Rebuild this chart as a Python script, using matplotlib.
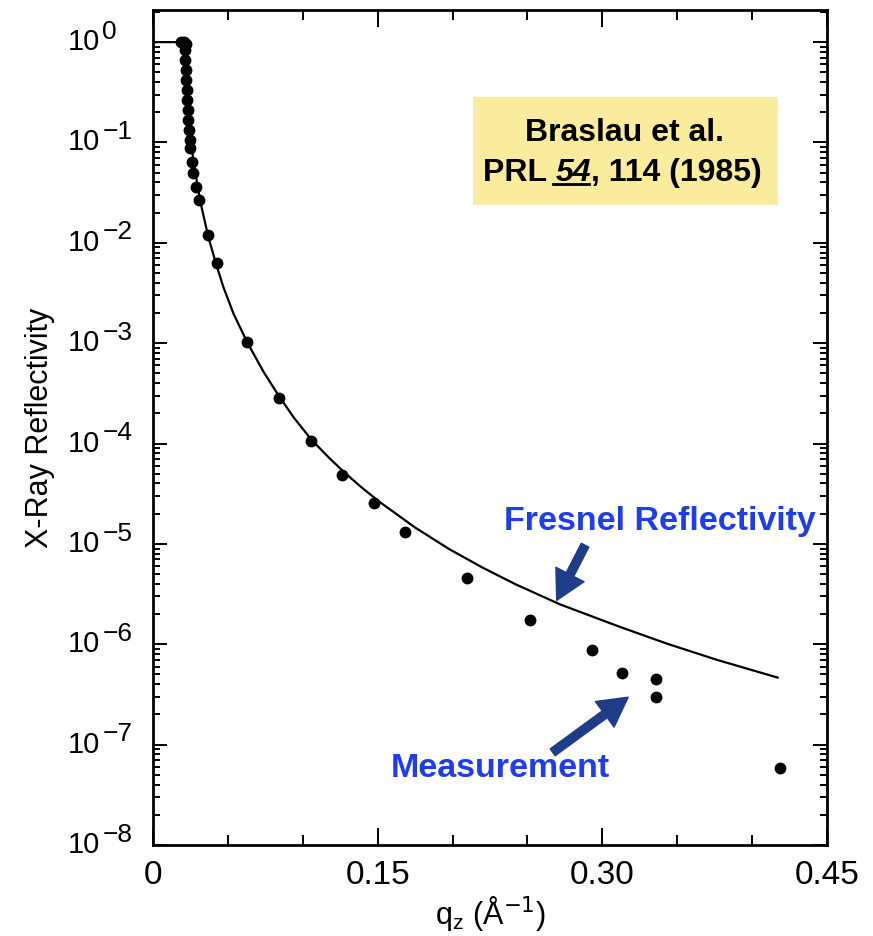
import matplotlib
matplotlib.use("Agg")
import matplotlib.pyplot as plt
from matplotlib.patches import Rectangle
from matplotlib.lines import Line2D
from matplotlib.ticker import FixedLocator, LogLocator, NullFormatter

plt.rcParams['font.family'] = ['Liberation Sans', 'DejaVu Sans']

meas_q = [0.0188, 0.0209, 0.0222, 0.0215, 0.0215, 0.0222, 0.0222, 0.0229, 0.0229,
          0.0235, 0.0235, 0.0242, 0.0249, 0.0249, 0.0262, 0.0269, 0.0289,
          0.0309, 0.0370, 0.0424, 0.0626, 0.0841, 0.1056, 0.1265, 0.1473,
          0.1682, 0.2098, 0.2515, 0.2932, 0.3134, 0.3356, 0.3356, 0.4184]
meas_R = [1.0, 1.0, 0.95, 0.83, 0.66, 0.53, 0.42, 0.33, 0.265,
          0.21, 0.167, 0.133, 0.106, 0.088, 0.064, 0.050, 0.036,
          0.0267, 0.0120, 0.0063, 1.03e-3, 2.85e-4, 1.06e-4, 4.87e-5, 2.56e-5,
          1.32e-5, 4.59e-6, 1.75e-6, 8.8e-7, 5.2e-7, 4.5e-7, 3.0e-7, 5.9e-8]

# Fresnel reflectivity curve
fres_q = [0.0, 0.0188, 0.0212, 0.0217, 0.0222, 0.0235, 0.0249, 0.0269, 0.0316,
          0.0370, 0.0424, 0.0471, 0.0538, 0.0632, 0.0740, 0.0841, 0.0942,
          0.1056, 0.1170, 0.1271, 0.1392, 0.1513, 0.1749, 0.1978, 0.2200,
          0.2421, 0.2717, 0.3094, 0.3430, 0.3767, 0.4170]
fres_R = [1.0, 1.0, 1.0, 0.85, 0.48, 0.23, 0.125, 0.0665, 0.0257,
          0.01135, 5.96e-3, 3.59e-3, 1.96e-3, 1.0e-3, 5.13e-4, 2.965e-4, 1.80e-4,
          1.10e-4, 7.35e-5, 5.27e-5, 3.66e-5, 2.62e-5, 1.46e-5, 8.87e-6, 5.81e-6,
          3.96e-6, 2.50e-6, 1.535e-6, 1.016e-6, 6.98e-7, 4.66e-7]

x_ticks = [0, 0.15, 0.30, 0.45]
x_ticklabels = ["0", "0.15", "0.30", "0.45"]
x_minor = [0.05, 0.10, 0.20, 0.25, 0.35, 0.40]
y_ticks = [1e0, 1e-1, 1e-2, 1e-3, 1e-4, 1e-5, 1e-6, 1e-7, 1e-8]
y_exponents = ["0", "−1", "−2", "−3", "−4", "−5", "−6", "−7", "−8"]

fig = plt.figure(figsize=(8.73, 9.36), dpi=100)
ax = fig.add_axes([153/873, 1-845/936, (827-153)/873, (845-10)/936])

ax.plot(fres_q, fres_R, color='black', lw=1.6, zorder=2)
ax.plot(meas_q, meas_R, 'o', color='black', ms=7.5, zorder=3)

ax.set_yscale('log')
ax.set_xlim(0, 0.45)
ax.set_ylim(1e-8, 10**0.32)

ax.xaxis.set_major_locator(FixedLocator(x_ticks))
ax.set_xticklabels(x_ticklabels)
ax.xaxis.set_minor_locator(FixedLocator(x_minor))
ax.yaxis.set_major_locator(FixedLocator(y_ticks))
ax.yaxis.set_major_formatter(NullFormatter())
ax.yaxis.set_minor_locator(LogLocator(base=10, subs=range(2, 10), numticks=100))
ax.yaxis.set_minor_formatter(NullFormatter())

ax.tick_params(axis='both', which='both', direction='in', top=True, right=True, width=1.4, color='black')
ax.tick_params(axis='y', which='major', length=10)
ax.tick_params(axis='y', which='minor', length=5)
ax.tick_params(axis='x', which='major', length=12, labelsize=24, pad=11)
ax.tick_params(axis='x', which='minor', length=7)
for s in ax.spines.values():
    s.set_linewidth(2)

# y tick labels: "10" with a large exponent, as in the original scan
ytr = ax.get_yaxis_transform()
for v, e in zip(y_ticks, y_exponents):
    ax.annotate("10", xy=(0, v), xycoords=ytr, xytext=(-38, 0), textcoords='offset points',
                ha='right', va='center', fontsize=21, annotation_clip=False)
    ax.annotate(e, xy=(0, v), xycoords=ytr, xytext=(-36.5, 7.5), textcoords='offset points',
                ha='left', va='center', fontsize=19, annotation_clip=False)

ax.set_xlabel(r"q$_{\mathregular{z}}$ (Å$^{-1}$)", fontsize=22, labelpad=2)
ax.set_ylabel("X-Ray Reflectivity", fontsize=22)
ax.yaxis.set_label_coords(-0.146, 0.5)

# citation box
ax.add_patch(Rectangle((0.475, 0.766), 0.452, 0.130, transform=ax.transAxes,
                       facecolor='#F9EC9C', edgecolor='none', zorder=1))
ax.text(0.700, 0.853, "Braslau et al.", transform=ax.transAxes, ha='center', va='center',
        fontsize=23, fontweight='bold', color='black', zorder=4)
t1 = ax.text(0.4896, 0.805, "PRL ", transform=ax.transAxes, ha='left', va='center',
             fontsize=23, fontweight='bold', color='black', zorder=4)
t2 = ax.annotate("54", xy=(1, 0), xycoords=t1, ha='left', va='bottom',
                 fontsize=23, fontweight='bold', fontstyle='italic', color='black', zorder=4)
t3 = ax.annotate(", 114 (1985)", xy=(1, 0), xycoords=t2, ha='left', va='bottom',
                 fontsize=23, fontweight='bold', color='black', zorder=4)

blue = '#1E3CF0'
navy = '#1F3C88'
ax.text(0.752, 0.387, "Fresnel Reflectivity", transform=ax.transAxes, ha='center', va='center',
        fontsize=24.5, fontweight='bold', color=blue)
ax.text(0.515, 0.092, "Measurement", transform=ax.transAxes, ha='center', va='center',
        fontsize=24.5, fontweight='bold', color=blue)

astyle = dict(arrowstyle='simple,head_length=1.1,head_width=1.2,tail_width=0.32',
              mutation_scale=19, color=navy, shrinkA=0, shrinkB=0)
ax.annotate("", xy=(0.599, 0.293), xytext=(0.641, 0.359), xycoords='axes fraction',
            textcoords='axes fraction', arrowprops=astyle)
ax.annotate("", xy=(0.705, 0.177), xytext=(0.593, 0.111), xycoords='axes fraction',
            textcoords='axes fraction', arrowprops=astyle)

# underline under "54"
fig.canvas.draw()
bb = t2.get_window_extent()
yline = bb.y0 + 0.12 * bb.height
fig.add_artist(Line2D([bb.x0 - 2, bb.x1 - 2], [yline, yline], transform=None,
                      color='black', lw=2, zorder=5))

fig.savefig("out.png", dpi=100)
